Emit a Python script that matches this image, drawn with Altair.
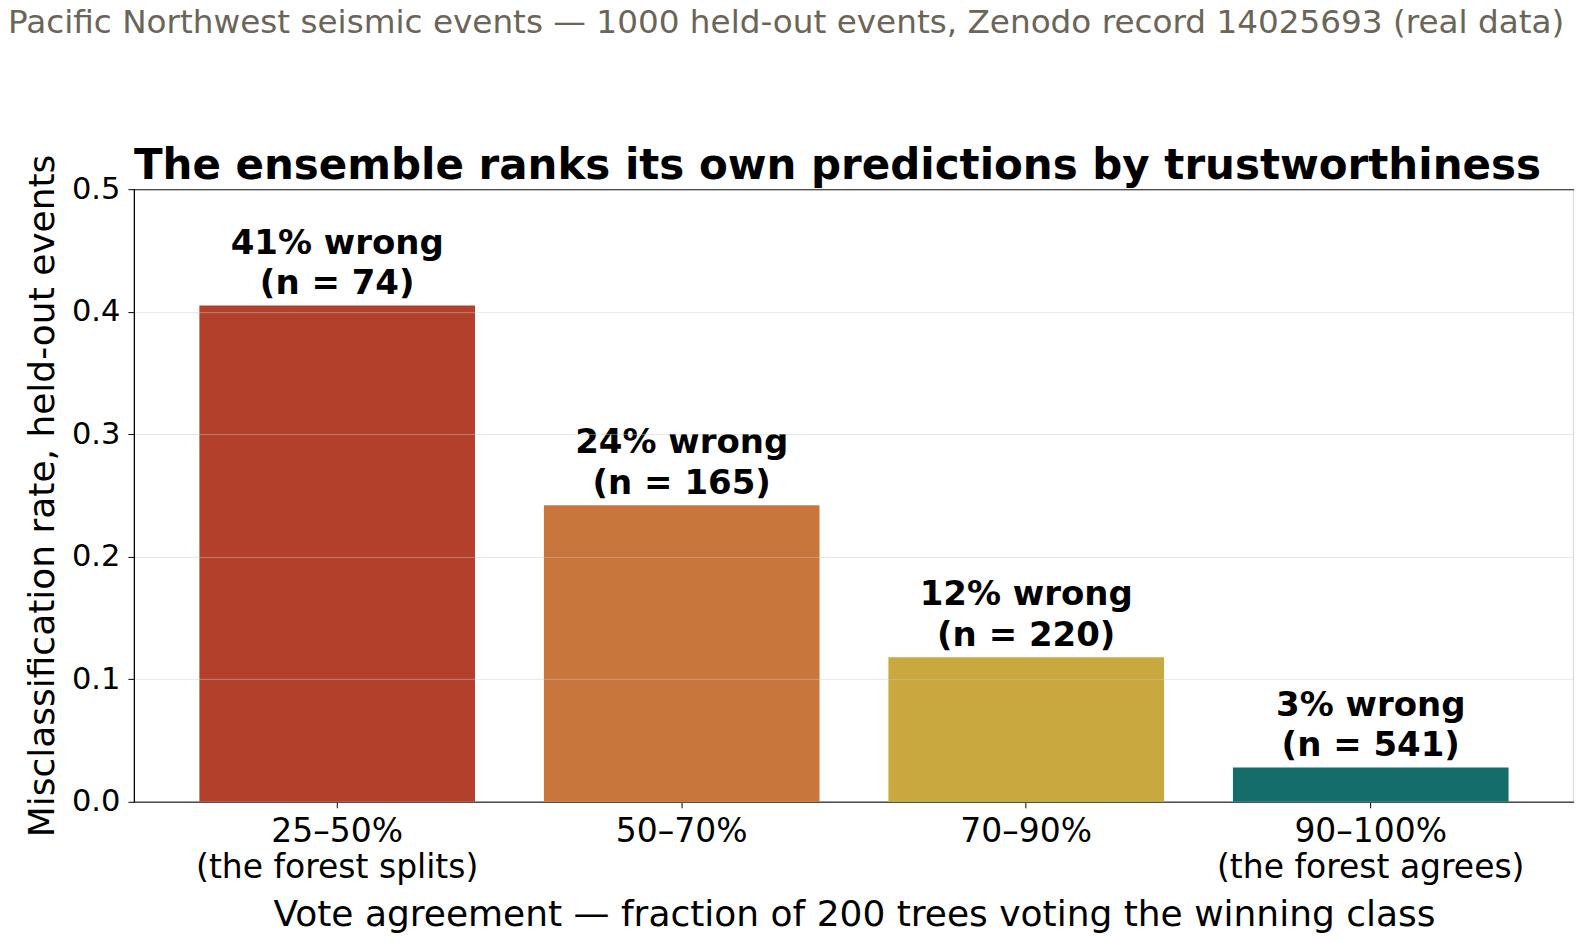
import altair as alt
import pandas as pd

categories = ["25–50%\n(the forest splits)", "50–70%", "70–90%", "90–100%\n(the forest agrees)"]
rates = [0.405, 0.242, 0.118, 0.028]
counts = [74, 165, 220, 541]
pct_wrong = [41, 24, 12, 3]
colors = ["#B3402B", "#C8763B", "#C9A83D", "#146D68"]

suptitle = "Pacific Northwest seismic events — 1000 held-out events, Zenodo record 14025693 (real data)"
title = "The ensemble ranks its own predictions by trustworthiness"
x_title = "Vote agreement — fraction of 200 trees voting the winning class"
y_title = "Misclassification rate, held-out events"

df = pd.DataFrame({
    "cat": categories,
    "rate": rates,
    "n": counts,
    "label": [f"{p}% wrong\n(n = {n})" for p, n in zip(pct_wrong, counts)],
})

FONT = "DejaVu Sans"

base = alt.Chart(df)

x_enc = alt.X(
    "cat:N",
    sort=categories,
    scale=alt.Scale(paddingInner=0.2, paddingOuter=0.19),
    axis=alt.Axis(
        title=x_title,
        titleFontSize=36,
        titleFontWeight="normal",
        titleColor="black",
        titlePadding=13,
        labelAngle=0,
        labelFontSize=33,
        labelColor="black",
        labelExpr="split(datum.label, '\\n')",
        labelLineHeight=35.5,
        labelPadding=8,
        labelLimit=0,
        tickSize=6,
        tickColor="black",
        domainColor="black",
        grid=False,
    ),
)

bars = base.mark_bar().encode(
    x=x_enc,
    y=alt.Y(
        "rate:Q",
        scale=alt.Scale(domain=[0, 0.5], nice=False),
        axis=alt.Axis(
            title=y_title,
            titleFontSize=36,
            titleFontWeight="normal",
            titleColor="black",
            titlePadding=10,
            values=[0, 0.1, 0.2, 0.3, 0.4, 0.5],
            format=".1f",
            labelFontSize=30.5,
            labelColor="black",
            labelPadding=8,
            tickSize=6,
            tickColor="black",
            domainColor="black",
            grid=True,
            gridColor="#cccccc",
            gridOpacity=0.45,
            zindex=1,
        ),
    ),
    color=alt.Color("cat:N", sort=categories, scale=alt.Scale(domain=categories, range=colors), legend=None),
)

labels = base.mark_text(
    baseline="bottom",
    dy=-45,
    fontSize=34,
    fontWeight="bold",
    lineBreak="\n",
    lineHeight=40.5,
    color="black",
    font=FONT,
).encode(
    x=alt.X("cat:N", sort=categories),
    y="rate:Q",
    text="label:N",
)

sup = alt.Chart(pd.DataFrame({"t": [suptitle]})).mark_text(
    align="left", baseline="alphabetic", fontSize=32.7, color="#6B6558", font=FONT
).encode(x=alt.value(-126), y=alt.value(-156.5), text="t:N")

ttl = alt.Chart(pd.DataFrame({"t": [title]})).mark_text(
    align="left", baseline="alphabetic", fontSize=42, fontWeight="bold", color="black", font=FONT
).encode(x=alt.value(0), y=alt.value(-10.5), text="t:N")

chart = alt.layer(bars, labels, sup, ttl).properties(
    width=1441,
    height=613,
    autosize=alt.AutoSizeParams(type="none"),
    padding={"left": 126, "top": 181, "right": 0, "bottom": 138},
).configure(font=FONT).configure_view(stroke="black", strokeWidth=1.1)

chart.save("out.html", embed_options={"renderer": "svg", "actions": False})
